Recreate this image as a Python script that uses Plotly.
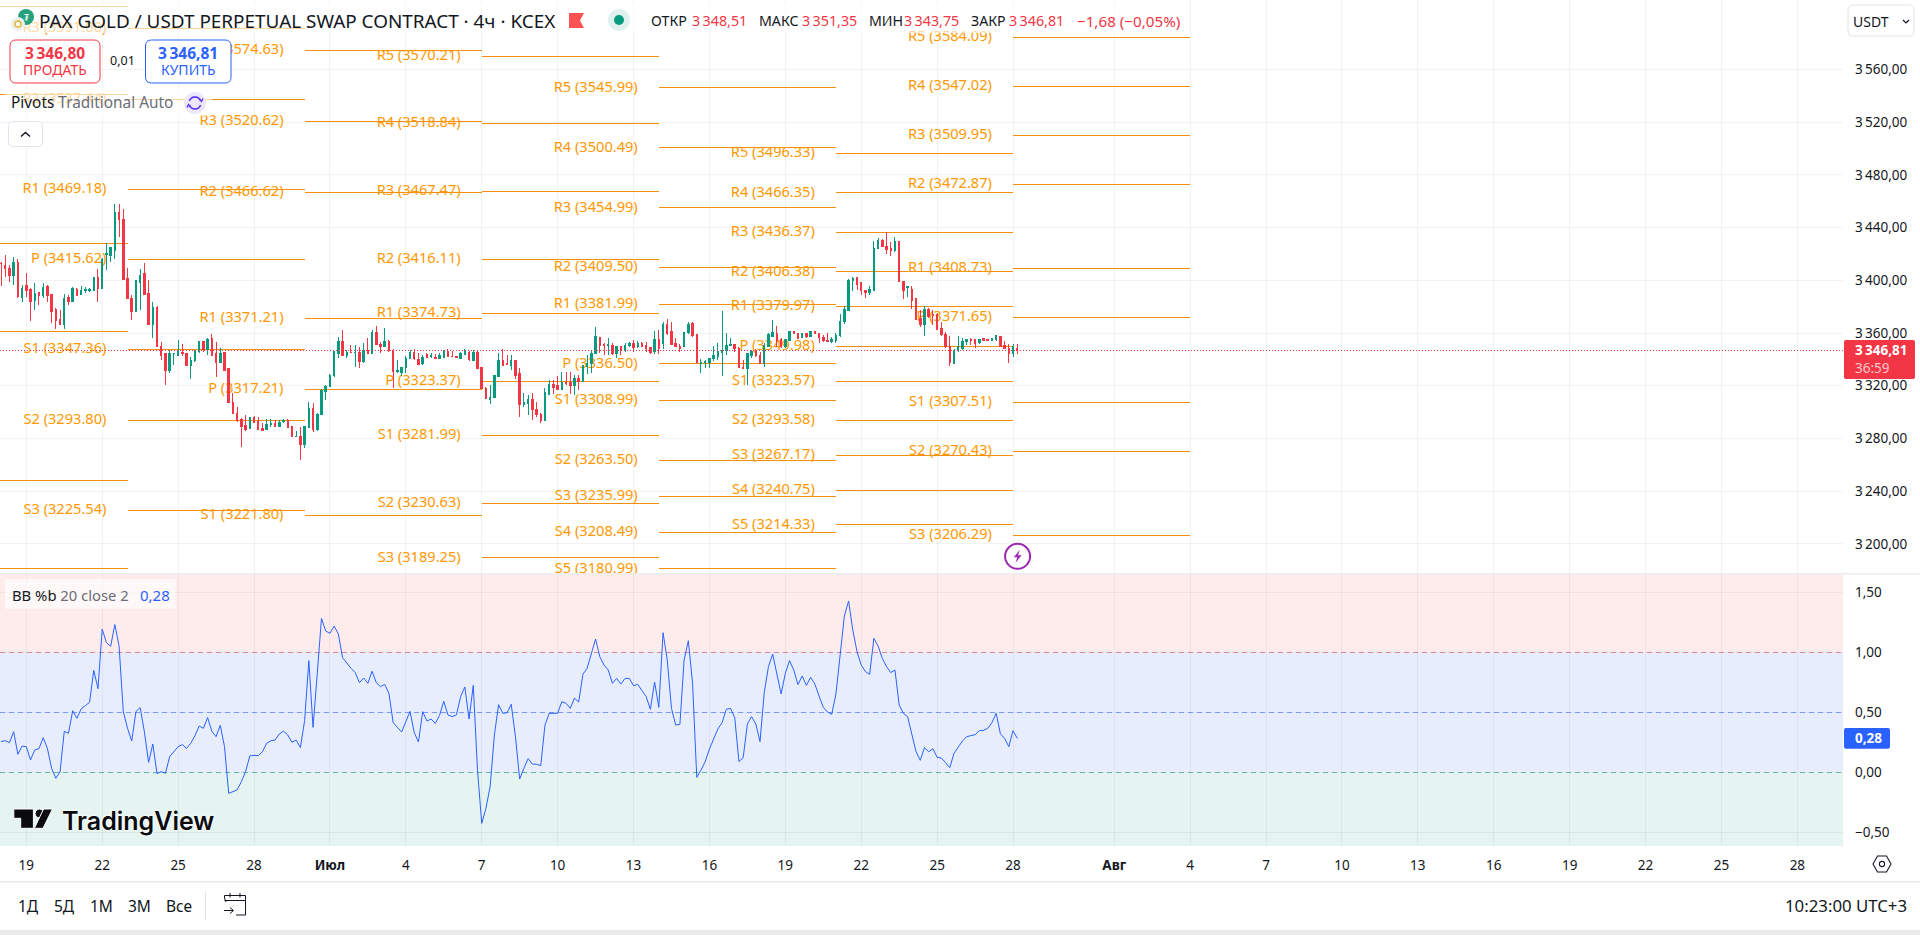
import math
import pandas as pd
import plotly.graph_objects as go

# ---- 4h candles, PAX Gold / USDT perpetual (KCEX) ----
OPEN = [
    3412.9,3411.6,3409.1,3403.3,3413.4,3387.1,3395.7,3393.4,3384.3,3390.4,
    3388.8,3395.2,3389.6,3377.5,3369.9,3366.8,3386.6,3383.8,3393.4,3389.3,
    3392.1,3392.4,3392.1,3402.3,3393.9,3419.5,3419.2,3423.0,3451.8,3446.5,
    3401.5,3386.3,3376.2,3398.7,3404.8,3390.1,3366.8,3379.2,3350.1,3344.1,
    3331.4,3344.1,3343.3,3345.3,3344.6,3335.2,3339.0,3345.6,3353.2,3347.6,
    3355.7,3344.1,3337.5,3345.1,3332.7,3307.6,3299.0,3294.0,3289.9,3287.4,
    3296.0,3292.5,3287.9,3286.4,3290.9,3291.7,3288.9,3293.0,3293.5,3288.9,
    3281.3,3281.8,3275.7,3288.4,3302.8,3286.4,3297.8,3315.5,3319.3,3327.6,
    3344.5,3353.9,3343.3,3345.5,3345.0,3345.0,3338.7,3347.1,3344.5,3360.2,
    3351.6,3349.6,3353.9,3347.1,3330.6,3330.4,3333.9,3340.7,3345.3,3340.2,
    3336.9,3344.0,3342.5,3341.7,3340.7,3341.7,3346.3,3342.5,3342.2,3341.0,
    3343.8,3345.5,3339.5,3345.0,3334.2,3318.2,3309.6,3310.9,3327.3,3339.5,
    3336.5,3335.7,3339.5,3328.9,3306.1,3306.6,3309.2,3302.3,3298.3,3293.5,
    3313.7,3320.6,3319.8,3317.5,3322.8,3322.1,3319.8,3325.8,3323.1,3334.5,
    3336.5,3344.1,3356.9,3351.6,3350.6,3350.9,3344.1,3349.4,3347.6,3350.4,
    3352.4,3349.4,3352.4,3350.6,3349.1,3345.6,3354.7,3352.2,3366.8,3361.0,
    3352.2,3349.6,3349.6,3360.3,3367.3,3358.5,3337.0,3337.7,3338.0,3340.5,
    3342.0,3345.1,3346.6,3350.9,3351.6,3348.6,3334.2,3332.9,3343.0,3345.8,
    3343.3,3337.0,3350.1,3357.7,3359.8,3354.7,3349.6,3354.2,3360.8,3359.7,
    3356.7,3359.7,3357.7,3361.3,3359.7,3356.7,3354.4,3353.4,3354.2,3358.2,
    3368.6,3377.2,3399.7,3402.0,3398.2,3392.6,3390.9,3392.1,3424.0,3430.1,
    3426.0,3424.5,3422.5,3429.8,3399.0,3394.7,3393.4,3386.1,3371.1,3366.1,
    3377.5,3373.7,3374.2,3363.3,3359.0,3350.1,3337.0,3346.6,3348.4,3353.4,
    3355.4,3354.9,3352.7,3355.7,3355.2,3354.4,3354.7,3357.7,3350.6,3347.9,
    3344.1,3348.51,
]
HIGH = [
    3414.1,3419.2,3411.6,3417.9,3415.9,3396.5,3405.3,3394.4,3397.7,3391.4,
    3397.7,3396.4,3389.6,3378.7,3377.5,3389.3,3388.8,3394.7,3393.9,3395.7,
    3394.7,3394.4,3402.8,3408.3,3416.9,3428.1,3425.5,3457.9,3457.9,3454.1,
    3409.1,3388.8,3400.2,3408.6,3412.9,3400.2,3383.8,3380.5,3353.4,3344.1,
    3347.1,3345.1,3354.7,3351.7,3344.6,3342.0,3347.1,3353.9,3353.9,3356.0,
    3359.2,3353.4,3348.4,3345.1,3333.2,3314.7,3303.6,3295.2,3297.8,3296.5,
    3297.0,3296.0,3291.4,3295.0,3294.5,3294.0,3294.0,3294.5,3294.5,3289.4,
    3285.9,3288.4,3289.4,3307.9,3306.6,3299.0,3317.5,3320.5,3328.9,3346.6,
    3357.2,3362.2,3347.1,3350.9,3350.9,3349.6,3352.1,3356.4,3362.2,3365.3,
    3353.4,3364.0,3354.6,3347.6,3339.5,3334.4,3342.5,3347.1,3347.6,3344.5,
    3343.3,3344.5,3344.5,3344.0,3344.5,3347.1,3347.6,3346.3,3342.8,3345.8,
    3347.6,3346.3,3347.1,3346.3,3334.4,3319.2,3320.5,3328.1,3345.0,3347.6,
    3343.3,3343.3,3339.5,3333.2,3314.7,3312.9,3314.2,3307.9,3299.0,3318.0,
    3324.3,3324.3,3327.4,3330.6,3330.6,3330.6,3328.1,3328.1,3335.7,3343.3,
    3346.6,3364.3,3357.2,3352.7,3356.0,3352.2,3350.4,3350.1,3352.2,3353.4,
    3354.7,3353.7,3353.4,3353.4,3349.6,3361.8,3362.3,3368.6,3370.6,3368.1,
    3356.0,3351.6,3361.0,3368.6,3368.1,3358.5,3340.0,3339.5,3340.8,3350.1,
    3352.2,3376.7,3359.8,3356.0,3351.6,3349.6,3339.5,3344.6,3347.1,3347.6,
    3345.8,3352.7,3359.8,3369.9,3365.3,3355.9,3355.2,3361.5,3361.5,3360.2,
    3360.2,3360.2,3361.8,3361.8,3360.2,3358.5,3359.7,3356.7,3359.7,3374.4,
    3380.5,3400.7,3402.8,3402.3,3398.2,3392.6,3395.9,3430.1,3431.8,3431.4,
    3436.7,3429.3,3432.6,3429.8,3399.5,3395.7,3395.9,3386.3,3377.5,3380.5,
    3378.7,3377.5,3374.9,3368.6,3361.0,3358.0,3347.6,3357.7,3356.0,3355.2,
    3355.9,3355.4,3355.4,3356.2,3355.7,3355.7,3358.7,3357.7,3354.2,3351.6,
    3351.6,3351.35,
]
LOW = [
    3395.7,3402.8,3398.9,3396.5,3386.3,3383.8,3387.6,3369.1,3377.4,3381.3,
    3386.3,3383.8,3367.9,3362.8,3366.8,3362.8,3381.3,3383.8,3388.3,3388.8,
    3390.1,3390.9,3392.1,3383.8,3393.4,3407.8,3414.1,3415.9,3433.1,3400.2,
    3385.8,3369.9,3376.2,3377.5,3389.6,3366.1,3356.4,3349.1,3339.5,3320.5,
    3329.4,3335.7,3343.3,3342.5,3335.2,3325.1,3338.3,3344.6,3345.8,3343.3,
    3343.3,3326.9,3337.5,3331.4,3306.6,3298.5,3292.7,3273.7,3285.9,3287.4,
    3291.9,3286.9,3285.9,3286.4,3288.9,3288.9,3288.4,3292.0,3287.9,3281.3,
    3281.3,3263.6,3272.9,3288.2,3285.1,3285.9,3297.8,3309.1,3318.8,3326.9,
    3341.0,3342.5,3340.7,3344.5,3334.4,3333.6,3337.4,3344.0,3344.5,3350.9,
    3345.0,3349.1,3345.8,3318.2,3329.9,3327.3,3329.9,3340.0,3339.5,3335.7,
    3335.7,3340.7,3340.7,3340.0,3340.5,3341.5,3342.0,3342.0,3341.2,3340.7,
    3343.3,3339.0,3339.0,3332.4,3317.2,3310.1,3306.1,3310.4,3326.8,3335.5,
    3335.5,3331.9,3325.1,3296.5,3304.1,3297.8,3294.0,3296.5,3291.9,3293.2,
    3313.7,3313.7,3317.2,3317.2,3320.6,3313.4,3312.9,3316.7,3323.1,3328.9,
    3329.4,3343.8,3344.6,3343.6,3343.3,3343.3,3340.8,3343.3,3345.8,3349.1,
    3345.3,3348.4,3349.1,3345.3,3344.1,3344.1,3343.8,3347.6,3358.5,3350.9,
    3349.1,3345.8,3349.1,3359.2,3356.7,3337.0,3329.9,3333.7,3333.7,3339.0,
    3339.5,3327.4,3343.3,3350.1,3345.8,3333.2,3332.7,3320.5,3340.8,3341.5,
    3336.5,3334.5,3349.1,3357.2,3349.6,3348.9,3348.9,3353.9,3359.2,3355.2,
    3355.9,3355.9,3357.2,3359.2,3352.7,3353.4,3352.9,3352.2,3352.7,3357.2,
    3366.6,3377.0,3391.9,3392.6,3388.8,3386.8,3388.8,3392.1,3424.0,3425.0,
    3419.7,3418.7,3421.7,3398.5,3385.8,3387.1,3378.0,3369.9,3364.8,3357.7,
    3371.1,3366.1,3362.3,3358.0,3348.9,3334.9,3336.5,3345.6,3347.1,3350.6,
    3351.1,3348.6,3351.9,3353.7,3353.9,3354.2,3354.2,3349.4,3347.6,3337.5,
    3342.0,3343.75,
]
CLOSE = [
    3412.4,3408.6,3403.3,3413.4,3387.6,3393.9,3392.6,3383.8,3390.1,3388.8,
    3394.6,3388.1,3376.7,3369.4,3366.8,3386.3,3383.8,3393.9,3388.8,3392.6,
    3392.9,3392.9,3402.3,3393.9,3415.9,3420.0,3424.8,3451.8,3445.8,3400.7,
    3386.1,3376.2,3399.5,3404.0,3389.6,3366.1,3379.2,3349.6,3343.3,3331.9,
    3344.1,3344.6,3345.6,3344.6,3335.2,3339.5,3345.6,3353.4,3347.6,3355.4,
    3343.3,3337.5,3344.6,3331.4,3307.1,3299.0,3293.4,3289.4,3286.6,3296.2,
    3291.9,3287.1,3285.9,3290.9,3291.4,3288.9,3292.2,3293.5,3288.6,3281.8,
    3281.8,3275.7,3289.4,3302.8,3286.4,3298.5,3316.0,3319.3,3328.1,3345.6,
    3353.9,3343.3,3345.5,3345.0,3345.5,3338.7,3347.1,3344.5,3360.2,3351.4,
    3349.6,3353.9,3346.6,3330.6,3331.9,3333.9,3340.7,3345.0,3340.7,3336.4,
    3341.2,3341.2,3343.3,3341.0,3343.0,3346.3,3342.0,3342.0,3341.7,3344.5,
    3346.3,3340.0,3345.0,3333.4,3317.7,3310.1,3311.4,3328.1,3339.5,3335.7,
    3336.0,3339.5,3328.1,3306.1,3307.6,3309.2,3301.6,3297.8,3293.5,3314.5,
    3320.6,3318.3,3317.5,3322.8,3321.5,3319.8,3325.8,3323.1,3335.2,3337.0,
    3344.6,3357.2,3350.9,3350.4,3351.1,3344.1,3349.4,3347.1,3350.9,3352.4,
    3349.1,3352.4,3350.1,3348.6,3345.1,3354.7,3347.9,3366.8,3359.8,3351.6,
    3349.6,3348.4,3360.5,3366.8,3358.0,3337.5,3338.0,3338.5,3340.8,3343.3,
    3345.8,3347.1,3350.9,3351.6,3347.9,3333.7,3333.4,3344.1,3345.8,3343.3,
    3337.0,3350.9,3358.5,3360.2,3354.2,3349.6,3354.7,3360.8,3359.7,3355.7,
    3359.7,3357.2,3361.3,3359.7,3356.5,3354.2,3353.4,3354.7,3358.2,3368.9,
    3377.5,3400.2,3401.5,3397.2,3391.9,3390.6,3392.9,3424.5,3430.1,3425.5,
    3423.5,3422.5,3429.8,3399.0,3392.1,3395.2,3385.0,3370.6,3366.1,3377.5,
    3372.4,3373.2,3362.8,3358.5,3349.6,3337.5,3347.1,3349.6,3353.9,3354.7,
    3354.2,3352.4,3355.2,3354.2,3354.4,3355.7,3358.0,3349.6,3347.9,3344.1,
    3349.6,3346.81,
]

# ---- Bollinger Bands %b (20, close, 2) ----
BB_PERCENT_B = [
    0.256,0.264,0.247,0.339,0.150,0.219,0.214,0.103,0.186,0.197,
    0.289,0.200,0.033,-0.050,0.003,0.342,0.325,0.514,0.450,0.528,
    0.556,0.583,0.850,0.697,1.194,1.081,1.050,1.231,1.053,0.508,
    0.367,0.261,0.506,0.539,0.339,0.083,0.236,-0.011,0.006,-0.008,
    0.131,0.172,0.214,0.231,0.200,0.242,0.306,0.386,0.367,0.456,
    0.342,0.297,0.392,0.214,-0.175,-0.161,-0.147,-0.078,0.006,0.136,
    0.142,0.139,0.172,0.242,0.264,0.269,0.319,0.344,0.311,0.250,
    0.269,0.206,0.431,0.931,0.375,0.825,1.283,1.178,1.158,1.219,
    1.153,0.956,0.908,0.867,0.831,0.747,0.786,0.742,0.842,0.747,
    0.714,0.733,0.658,0.414,0.375,0.336,0.422,0.508,0.331,0.253,
    0.506,0.428,0.444,0.408,0.475,0.592,0.478,0.464,0.478,0.631,
    0.711,0.444,0.725,0.019,-0.425,-0.300,-0.119,0.311,0.564,0.492,
    0.497,0.567,0.297,-0.056,0.033,0.114,0.069,0.067,0.056,0.394,
    0.492,0.494,0.492,0.589,0.575,0.533,0.619,0.586,0.817,0.867,
    0.992,1.111,0.964,0.894,0.853,0.742,0.783,0.736,0.783,0.783,
    0.722,0.733,0.681,0.631,0.525,0.753,0.542,1.164,0.936,0.533,
    0.394,0.400,0.936,1.097,0.742,-0.042,0.019,0.089,0.194,0.283,
    0.361,0.414,0.525,0.533,0.456,0.089,0.122,0.403,0.464,0.403,
    0.256,0.664,0.881,0.986,0.811,0.653,0.825,0.931,0.853,0.731,
    0.803,0.725,0.792,0.736,0.636,0.542,0.503,0.483,0.653,1.006,
    1.303,1.428,1.186,1.006,0.894,0.839,0.817,1.117,1.053,0.950,
    0.881,0.831,0.853,0.561,0.492,0.464,0.325,0.172,0.100,0.206,
    0.172,0.197,0.125,0.119,0.081,0.039,0.158,0.214,0.261,0.297,
    0.308,0.314,0.347,0.350,0.367,0.414,0.492,0.322,0.283,0.214,
    0.347,0.283,
]

# ---- Weekly traditional pivot levels ----
WEEK_STARTS = ["2025-06-16", "2025-06-23", "2025-06-30", "2025-07-07",
               "2025-07-14", "2025-07-21", "2025-07-28", "2025-08-04"]
# The opening week's labels sit left of the visible range, so only its levels are kept.
PIVOTS_JUN16 = [("", 3608.00), ("", 3541.20), ("", 3427.80), ("", 3361.30),
                ("", 3248.40), ("", 3181.60)]
PIVOTS_JUN23 = [("R3", 3591.00), ("R2", 3537.44), ("R1", 3469.18), ("P", 3415.62),
                ("S1", 3347.36), ("S2", 3293.80), ("S3", 3225.54)]
PIVOTS_JUN30 = [("R4", 3574.63), ("R3", 3520.62), ("R2", 3466.62), ("R1", 3371.21),
                ("P", 3317.21), ("S1", 3221.80)]
PIVOTS_JUL07 = [("R5", 3570.21), ("R4", 3518.84), ("R3", 3467.47), ("R2", 3416.11),
                ("R1", 3374.73), ("P", 3323.37), ("S1", 3281.99), ("S2", 3230.63),
                ("S3", 3189.25)]
PIVOTS_JUL14 = [("R5", 3545.99), ("R4", 3500.49), ("R3", 3454.99), ("R2", 3409.50),
                ("R1", 3381.99), ("P", 3336.50), ("S1", 3308.99), ("S2", 3263.50),
                ("S3", 3235.99), ("S4", 3208.49), ("S5", 3180.99)]
PIVOTS_JUL21 = [("R5", 3496.33), ("R4", 3466.35), ("R3", 3436.37), ("R2", 3406.38),
                ("R1", 3379.97), ("P", 3349.98), ("S1", 3323.57), ("S2", 3293.58),
                ("S3", 3267.17), ("S4", 3240.75), ("S5", 3214.33)]
PIVOTS_JUL28 = [("R5", 3584.09), ("R4", 3547.02), ("R3", 3509.95), ("R2", 3472.87),
                ("R1", 3408.73), ("P", 3371.65), ("S1", 3307.51), ("S2", 3270.43),
                ("S3", 3206.29)]
WEEKLY_PIVOTS = [PIVOTS_JUN16, PIVOTS_JUN23, PIVOTS_JUN30, PIVOTS_JUL07,
                 PIVOTS_JUL14, PIVOTS_JUL21, PIVOTS_JUL28]

# ---- Axis ticks and legend texts ----
PRICE_TICKS = [3200, 3240, 3280, 3320, 3360, 3400, 3440, 3480, 3520, 3560]
PRICE_TICK_TEXT = ["3\u2009200,00", "3\u2009240,00", "3\u2009280,00", "3\u2009320,00",
                   "3\u2009360,00", "3\u2009400,00", "3\u2009440,00", "3\u2009480,00",
                   "3\u2009520,00", "3\u2009560,00"]
BB_TICKS = [-0.5, 0, 0.5, 1, 1.5]
BB_TICK_TEXT = ["\u22120,50", "0,00", "0,50", "1,00", "1,50"]
DATE_TICKS = ["2025-06-19", "2025-06-22", "2025-06-25", "2025-06-28", "2025-07-01",
              "2025-07-04", "2025-07-07", "2025-07-10", "2025-07-13", "2025-07-16",
              "2025-07-19", "2025-07-22", "2025-07-25", "2025-07-28", "2025-08-01",
              "2025-08-04", "2025-08-07", "2025-08-10", "2025-08-13", "2025-08-16",
              "2025-08-19", "2025-08-22", "2025-08-25", "2025-08-28"]
DATE_TICK_TEXT = ["19", "22", "25", "28", "<b>Июл</b>", "4", "7", "10", "13", "16", "19",
                  "22", "25", "28", "<b>Авг</b>", "4", "7", "10", "13", "16", "19",
                  "22", "25", "28"]
LAST_CLOSE = CLOSE[-1]
LAST_BB = BB_PERCENT_B[-1]

# ---- Page geometry and palette ----
W, H = 1920, 935
PANE_RIGHT = 1843
MAIN_BOTTOM = 573
BB_TOP, BB_BOTTOM = 573.5, 846
X_START = pd.Timestamp("2025-06-18 00:00") - pd.Timedelta(minutes=57)
X_END = pd.Timestamp("2025-06-18 00:00") + pd.Timedelta(hours=1747.3)
PRICE_RANGE = [3177.85, 3612.75]
BB_RANGE = [-0.614, 1.657]
FONT = "Noto Sans, sans-serif"
INK = "#131722"
GREY = "#6a6d78"
RED = "#f23645"
GREEN = "#089981"
BLUE = "#2962ff"
ORANGE = "#ff9800"
GRID = "rgba(42,46,57,0.06)"
EDGE = "#e0e3eb"

times = pd.date_range(end="2025-07-28 04:00", periods=len(CLOSE), freq="4h")


def fx(x):
    return x / W


def fy(y):
    return 1 - y / H


shapes = []
notes = []


def note(x, y, text, size=13.5, color=INK, anchor="left", weight=None):
    font = dict(family=FONT, size=size, color=color)
    if weight:
        font["weight"] = weight
    notes.append(dict(x=fx(x), y=fy(y), xref="paper", yref="paper", text=text, showarrow=False,
                      xanchor=anchor, yanchor="middle", font=font, borderpad=0, borderwidth=0))


def rect(x0, y0, x1, y1, fill, edge=None, r=0, width=1, layer="above"):
    line = dict(color=edge, width=width) if edge else dict(width=0)
    if r:
        d = (f"M{fx(x0 + r)},{fy(y0)} L{fx(x1 - r)},{fy(y0)} Q{fx(x1)},{fy(y0)} {fx(x1)},{fy(y0 + r)} "
             f"L{fx(x1)},{fy(y1 - r)} Q{fx(x1)},{fy(y1)} {fx(x1 - r)},{fy(y1)} "
             f"L{fx(x0 + r)},{fy(y1)} Q{fx(x0)},{fy(y1)} {fx(x0)},{fy(y1 - r)} "
             f"L{fx(x0)},{fy(y0 + r)} Q{fx(x0)},{fy(y0)} {fx(x0 + r)},{fy(y0)} Z")
        shapes.append(dict(type="path", path=d, xref="paper", yref="paper", fillcolor=fill,
                           line=line, layer=layer))
    else:
        shapes.append(dict(type="rect", x0=fx(x0), x1=fx(x1), y0=fy(y0), y1=fy(y1), xref="paper",
                           yref="paper", fillcolor=fill, line=line, layer=layer))


def circle(cx, cy, r, fill, edge=None, width=1):
    line = dict(color=edge, width=width) if edge else dict(width=0)
    shapes.append(dict(type="circle", x0=fx(cx - r), x1=fx(cx + r), y0=fy(cy - r), y1=fy(cy + r),
                       xref="paper", yref="paper", fillcolor=fill, line=line, layer="above"))


def poly(points, fill=None, edge=None, width=1, closed=True):
    d = "M" + " L".join(f"{fx(px)},{fy(py)}" for px, py in points) + (" Z" if closed else "")
    line = dict(color=edge, width=width) if edge else dict(width=0)
    shapes.append(dict(type="path", path=d, xref="paper", yref="paper",
                       fillcolor=fill or "rgba(0,0,0,0)", line=line, layer="above"))


def arc(cx, cy, r, a0, a1, steps=14):
    return [(cx + r * math.cos(math.radians(a0 + (a1 - a0) * k / steps)),
             cy + r * math.sin(math.radians(a0 + (a1 - a0) * k / steps))) for k in range(steps + 1)]


# ---- Traces ----
line_x, line_y, label_x, label_y, label_text = [], [], [], [], []
label_gap = pd.Timedelta(hours=20)
for k, levels in enumerate(WEEKLY_PIVOTS):
    start, end = pd.Timestamp(WEEK_STARTS[k]), pd.Timestamp(WEEK_STARTS[k + 1])
    for name, value in levels:
        line_x += [start, end, None]
        line_y += [value, value, None]
        if name:
            label_x.append(start - label_gap)
            label_y.append(value)
            label_text.append(f"{name} ({value:.2f})")

fig = go.Figure()
fig.add_trace(go.Scatter(x=line_x, y=line_y, mode="lines", xaxis="x", yaxis="y", hoverinfo="skip",
                         line=dict(color="#f58e0b", width=1)))
fig.add_trace(go.Scatter(x=label_x, y=label_y, text=label_text, mode="text", xaxis="x", yaxis="y",
                         textposition="middle left", hoverinfo="skip",
                         textfont=dict(family=FONT, size=14.6, color=ORANGE)))
fig.add_trace(go.Candlestick(x=times, open=OPEN, high=HIGH, low=LOW, close=CLOSE, xaxis="x", yaxis="y3",
                             whiskerwidth=0, hoverinfo="skip",
                             increasing=dict(line=dict(color=GREEN, width=1), fillcolor=GREEN),
                             decreasing=dict(line=dict(color=RED, width=1), fillcolor=RED)))
fig.add_trace(go.Scatter(x=times, y=BB_PERCENT_B, mode="lines", xaxis="x2", yaxis="y2", hoverinfo="skip",
                         line=dict(color=BLUE, width=1)))

# ---- Indicator pane bands and levels ----
band_rows = [(1, BB_RANGE[1], "#feecec"), (0, 1, "#e8edfd"), (BB_RANGE[0], 0, "#e5f4f0")]
for low, high, colour in band_rows:
    shapes.append(dict(type="rect", xref="paper", yref="y2", x0=0, x1=fx(PANE_RIGHT), y0=low, y1=high,
                       fillcolor=colour, line=dict(width=0), layer="below"))
for level, colour in [(1, "rgba(242,54,69,0.55)"), (0.5, "rgba(41,98,255,0.55)"), (0, "rgba(8,153,129,0.6)")]:
    shapes.append(dict(type="line", xref="paper", yref="y2", x0=0, x1=fx(PANE_RIGHT), y0=level, y1=level,
                       line=dict(color=colour, width=1, dash="5px,4px"), layer="between"))

# Last-price guide across the candle pane
shapes.append(dict(type="line", xref="paper", yref="y", x0=0, x1=fx(PANE_RIGHT), y0=LAST_CLOSE, y1=LAST_CLOSE,
                   line=dict(color=RED, width=1, dash="1px,2px"), layer="above"))

# ---- Header rows with a translucent backing ----
rect(0, 4, 1190, 33, "rgba(255,255,255,0.62)")
rect(5, 90, 212, 116, "rgba(255,255,255,0.62)")
circle(26, 17, 8, "#26a17b")
note(26, 17, "₮", size=9, color="#ffffff", anchor="center")
circle(18, 24, 7, "#eeeeee")
circle(18, 24, 3, "#ffffff", edge="#e2b93b", width=1.5)
note(39, 21, "PAX GOLD / USDT PERPETUAL SWAP CONTRACT · 4ч · KCEX", size=18.9)
poly([(569, 13), (584, 13), (580, 20.5), (584, 28), (569, 28)], fill="#ff5252")
circle(619, 20, 11, "#dff1ee")
circle(619, 20, 5, GREEN)
for label, x_label, value, x_value in [("ОТКР", 651, "3\u2009348,51", 692), ("МАКС", 759, "3\u2009351,35", 802),
                                       ("МИН", 868.5, "3\u2009343,75", 904), ("ЗАКР", 971, "3\u2009346,81", 1009)]:
    note(x_label, 20.5, label, size=14.2)
    note(x_value, 20.5, value, size=14.3, color=RED)
note(1077, 20.5, "\u22121,68 (\u22120,05%)", size=15.2, color=RED)

# Sell / buy buttons
rect(10, 40, 100, 83, "#ffffff", edge=RED, r=6)
note(55, 52.5, "3\u2009346,80", size=15.5, color=RED, anchor="center", weight=700)
note(55, 70, "ПРОДАТЬ", size=14, color=RED, anchor="center")
note(122, 60, "0,01", size=12.5, anchor="center")
rect(145.5, 40, 231, 83, "#ffffff", edge=BLUE, r=6)
note(188, 52.5, "3\u2009346,81", size=15.5, color=BLUE, anchor="center", weight=700)
note(188, 70, "КУПИТЬ", size=14, color=BLUE, anchor="center")

# Indicator title and its status icon
note(11, 103, f"Pivots <span style='color:{GREY}'>Traditional Auto</span>", size=15.4)
circle(195, 103, 11, "#ece7fd")
poly(arc(195, 103, 6, 200, 340), edge="#5b3bf0", width=1.6, closed=False)
poly(arc(195, 103, 6, 20, 160), edge="#5b3bf0", width=1.6, closed=False)
poly([(199.5, 99), (201.5, 101.5), (203, 98.5)], edge="#5b3bf0", width=1.4, closed=False)
poly([(190.5, 107), (188.5, 104.5), (187, 107.5)], edge="#5b3bf0", width=1.4, closed=False)

rect(8.5, 121.5, 42.5, 146.5, "#ffffff", edge=EDGE, r=4)
poly([(21, 136.5), (25.5, 132.5), (30, 136.5)], edge=INK, width=1.5, closed=False)

# Currency selector
rect(1848, 5, 1914, 36, "#ffffff", edge=EDGE, r=5)
note(1853, 21, "USDT", size=14)
poly([(1903, 20), (1906, 23), (1909, 20)], edge=INK, width=1.2, closed=False)

# Price scale tags
rect(1844, 340, 1915, 379, RED, r=2)
note(1855, 350, "3\u2009346,81", size=13.5, color="#ffffff", weight=700)
note(1855, 367.5, "36:59", size=13.5, color="#ffc6cb")
rect(1844, 728, 1890, 748.7, BLUE, r=2)
note(1855, 738, f"{LAST_BB:.2f}".replace(".", ","), size=13.5, color="#ffffff", weight=700)

# Lightning badge
circle(1017.6, 556.3, 12.5, "#ffffff", edge="#9c27b0", width=2)
poly([(1019.8, 549.8), (1013.8, 557.3), (1017.2, 557.3), (1015.6, 562.8), (1021.6, 555.3), (1018, 555.3)],
     fill="#9c27b0")

# Indicator legend
rect(5, 579, 175.5, 608.7, "rgba(255,255,255,0.62)")
note(11.5, 594.5, f"BB %b <span style='color:{GREY}'>20 close 2</span>", size=14.8)
note(139.5, 594.5, f"{LAST_BB:.2f}".replace(".", ","), size=15, color=BLUE)

# Wordmark
poly([(13.8, 809), (33.4, 809), (33.4, 828.3), (20.7, 828.3), (20.7, 818.3), (13.8, 818.3)], fill="#0b0b0f",
     edge="#ffffff", width=1)
circle(39.5, 813.5, 4.4, "#0b0b0f", edge="#ffffff", width=1)
poly([(43.5, 809), (52.5, 809), (43, 828.3), (34.4, 828.3)], fill="#0b0b0f", edge="#ffffff", width=1)
notes.append(dict(x=fx(60), y=fy(820.5), xref="paper", yref="paper", text="TradingView", showarrow=False,
                  xanchor="left", yanchor="middle",
                  font=dict(family="Inter, sans-serif", size=25, color="#0b0b0f", weight=600,
                            shadow="0 0 2px #fff, 0 0 3px #fff")))

# Settings button on the time scale
poly([(1873, 864), (1877.5, 856), (1886.5, 856), (1891, 864), (1886.5, 872), (1877.5, 872)], edge=INK, width=1.1)
circle(1882, 864, 2.6, "#ffffff", edge=INK, width=1.1)

# ---- Bottom toolbar ----
rect(0, 573, W, 574.5, "#ececee", layer="below")
rect(0, 881, W, 882.5, "#e9eaed")
rect(0, 930, W, H, "#ebebeb")
for text, x_center in [("1Д", 28.6), ("5Д", 64.7), ("1М", 101.6), ("3М", 139), ("Все", 178.7)]:
    note(x_center, 906, text, size=15.5, anchor="center")
rect(205, 891.5, 206, 920, EDGE)
poly([(226, 902), (224.5, 898), (224.5, 895.5), (245.5, 895.5), (245.5, 915), (236, 915)], edge=INK, width=1, closed=False)
poly([(224.5, 900.5), (245.5, 900.5)], edge=INK, width=1, closed=False)
poly([(230, 893), (230, 897.5)], edge=INK, width=1, closed=False)
poly([(240, 893), (240, 897.5)], edge=INK, width=1, closed=False)
poly([(224, 910.5), (233, 910.5)], edge=INK, width=1, closed=False)
poly([(230, 907.5), (233.5, 910.5), (230, 913.5)], edge=INK, width=1, closed=False)
note(1906.7, 905, "10:23:00 UTC+3", size=16.8, anchor="right")

# ---- Layout ----
fig.update_layout(
    width=W, height=H, autosize=False, margin=dict(l=0, r=0, t=0, b=0, pad=0),
    paper_bgcolor="#ffffff", plot_bgcolor="rgba(0,0,0,0)", showlegend=False, boxgap=0.5,
    font=dict(family=FONT, color=INK), dragmode=False, shapes=shapes, annotations=notes,
    xaxis=dict(type="date", domain=[0, fx(PANE_RIGHT)], range=[X_START, X_END], anchor="y",
               tickvals=DATE_TICKS, showticklabels=False, ticks="", gridcolor=GRID, gridwidth=1,
               rangeslider=dict(visible=False), zeroline=False, showline=False),
    xaxis2=dict(type="date", domain=[0, fx(PANE_RIGHT)], range=[X_START, X_END], anchor="y2",
                tickvals=DATE_TICKS, ticktext=DATE_TICK_TEXT, ticks="", ticklen=0, gridcolor=GRID,
                gridwidth=1, zeroline=False, showline=False, ticklabelstandoff=9, tickangle=0,
                tickfont=dict(family=FONT, size=13.5, color=INK)),
    yaxis=dict(domain=[fy(MAIN_BOTTOM), 1], range=PRICE_RANGE, side="right", anchor="x",
               tickvals=PRICE_TICKS, ticktext=PRICE_TICK_TEXT, ticks="", gridcolor=GRID, gridwidth=1,
               zeroline=False, showline=False, ticklabelstandoff=11,
               tickfont=dict(family=FONT, size=13.5, color=INK)),
    yaxis3=dict(overlaying="y", range=PRICE_RANGE, side="right", anchor="x", visible=False, showgrid=False),
    yaxis2=dict(domain=[fy(BB_BOTTOM), fy(BB_TOP)], range=BB_RANGE, side="right", anchor="x2",
                tickvals=BB_TICKS, ticktext=BB_TICK_TEXT, ticks="", gridcolor=GRID, gridwidth=1,
                zeroline=False, showline=False, ticklabelstandoff=11,
                tickfont=dict(family=FONT, size=13.5, color=INK)),
)

# Pixel-snapped candles, pivot levels and dashed guides
CRISP_MARKS = """
var root = document.getElementById('{plot_id}');
root.querySelectorAll('.boxlayer path, .subplot.xy .scatterlayer .js-line').forEach(function (p) {
  p.style.shapeRendering = 'crispEdges';
});
root.querySelectorAll('.shapelayer path').forEach(function (p) {
  if (p.style.strokeDasharray && p.style.strokeDasharray !== 'none') { p.style.shapeRendering = 'crispEdges'; }
});
"""
fig.write_html("out.html", config=dict(displayModeBar=False, staticPlot=True), post_script=CRISP_MARKS)
